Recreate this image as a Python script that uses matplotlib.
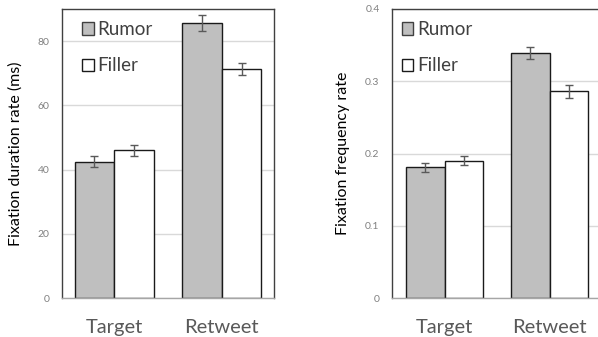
import matplotlib
matplotlib.use("Agg")
import matplotlib.pyplot as plt
from matplotlib.patches import Patch
import numpy as np

# data
categories = ["Target", "Retweet"]

duration_rumor = [42.5, 85.7]
duration_rumor_err = [1.7, 2.5]
duration_filler = [46.0, 71.3]
duration_filler_err = [1.7, 2.0]

frequency_rumor = [0.181, 0.339]
frequency_rumor_err = [0.006, 0.008]
frequency_filler = [0.190, 0.286]
frequency_filler_err = [0.006, 0.009]

plt.rcParams["font.family"] = ["Lato", "DejaVu Sans"]

W, H = 598, 337
fig = plt.figure(figsize=(W / 100, H / 100), dpi=100)


def px_axes(x0, y0, x1, y1):
    # axes from pixel box (top-left origin)
    return fig.add_axes([x0 / W, 1 - y1 / H, (x1 - x0) / W, (y1 - y0) / H])


def draw_panel(ax, rumor, rumor_err, filler, filler_err, ylim, yticks, ticklabels, ylabel, leg_x):
    x = np.arange(len(categories))
    w = 0.37
    ax.bar(x - w / 2, rumor, w, color="#bfbfbf", edgecolor="#1a1a1a", linewidth=1, zorder=2)
    ax.bar(x + w / 2, filler, w, color="white", edgecolor="#1a1a1a", linewidth=1, zorder=2)
    ax.errorbar(x - w / 2, rumor, yerr=rumor_err, fmt="none", ecolor="#595959",
                elinewidth=1, capsize=3, capthick=1, zorder=3)
    ax.errorbar(x + w / 2, filler, yerr=filler_err, fmt="none", ecolor="#595959",
                elinewidth=1, capsize=3, capthick=1, zorder=3)

    ax.set_ylim(*ylim)
    ax.set_yticks(yticks)
    ax.set_yticklabels(ticklabels, fontsize=7.5, color="#808080")
    ax.yaxis.grid(True, color="#d9d9d9", linewidth=1, zorder=0)
    ax.set_axisbelow(True)
    ax.tick_params(axis="y", length=0, pad=9)
    ax.set_xticks(x)
    ax.set_xticklabels(categories, fontsize=14.5, color="#595959")
    ax.tick_params(axis="x", length=0, pad=15)
    ax.set_ylabel(ylabel, fontsize=11.5, color="black", labelpad=11)

    for s in ["left", "top", "right"]:
        ax.spines[s].set_color("#404040")
        ax.spines[s].set_linewidth(1)
    ax.spines["bottom"].set_color("#a6a6a6")
    ax.spines["bottom"].set_linewidth(1)

    handles = [Patch(facecolor="#bfbfbf", edgecolor="#404040", linewidth=1),
               Patch(facecolor="white", edgecolor="#1a1a1a", linewidth=1)]
    leg = ax.legend(handles, ["Rumor", "Filler"], loc="upper left", frameon=False,
                    fontsize=13.5, handlelength=0.62, handleheight=0.62, handletextpad=0.18,
                    labelspacing=1.02, borderaxespad=0, borderpad=0,
                    bbox_to_anchor=(leg_x, 0.958))
    for t in leg.get_texts():
        t.set_color("#404040")


ax1 = px_axes(62, 9, 274, 298)
ax1.set_xlim(-0.487, 1.487)
draw_panel(ax1, duration_rumor, duration_rumor_err, duration_filler, duration_filler_err,
           (0, 90), [0, 20, 40, 60, 80], ["0", "20", "40", "60", "80"],
           "Fixation duration rate (ms)", 0.094)

ax2 = px_axes(392, 9, 602, 298)
ax2.set_xlim(-0.5, 1.5)
draw_panel(ax2, frequency_rumor, frequency_rumor_err, frequency_filler, frequency_filler_err,
           (0, 0.4), [0, 0.1, 0.2, 0.3, 0.4], ["0", "0.1", "0.2", "0.3", "0.4"],
           "Fixation frequency rate", 0.047)

fig.savefig("out.png", dpi=100)
